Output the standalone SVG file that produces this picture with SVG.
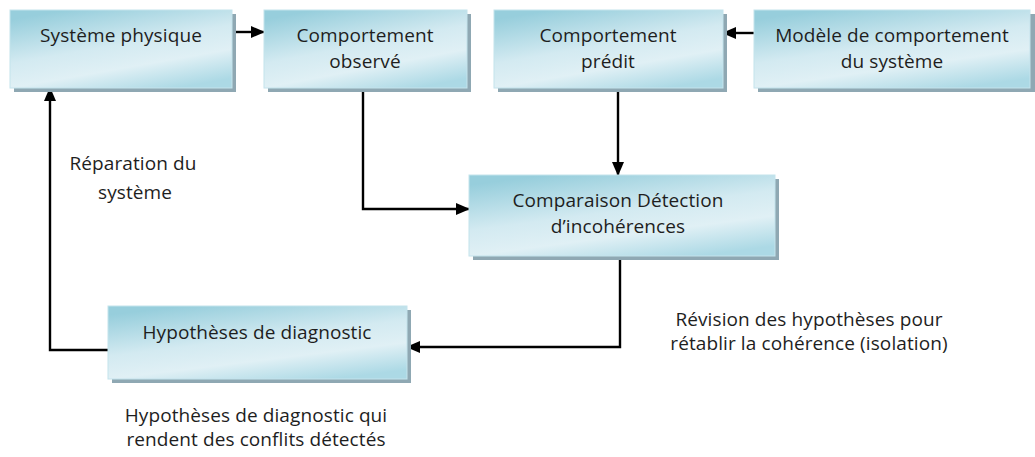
<svg xmlns="http://www.w3.org/2000/svg" width="1035" height="457" viewBox="0 0 1035 457">
  <style>
    .box { fill: url(#boxFill); stroke: #c4e3ec; stroke-width: 1; }
    .shadow { fill: #8fa8b3; }
    .lbl { font-family: "Open Sans", "Noto Sans", sans-serif; font-size: 19px; letter-spacing: 0.1px; fill: #1e1e1e; text-anchor: middle; }
    .wire { fill: none; stroke: #000; stroke-width: 2.4; }
  </style>
  <defs>
    <linearGradient id="boxFill" x1="0.25" y1="0" x2="0.75" y2="1">
      <stop offset="0" stop-color="#97cedc"/>
      <stop offset="0.45" stop-color="#d3eaf1"/>
      <stop offset="0.7" stop-color="#e0f0f5"/>
      <stop offset="1" stop-color="#acd9e5"/>
    </linearGradient>
    <marker id="arrow" markerWidth="14" markerHeight="12" refX="13" refY="6" orient="auto" markerUnits="userSpaceOnUse" viewBox="0 0 14 12">
      <path d="M0,0 L14,6 L0,12 Z" fill="#000"/>
    </marker>
  </defs>

  <!-- connectors -->
  <g id="connectors">
    <line class="wire" x1="232" y1="32" x2="264" y2="32" marker-end="url(#arrow)"/>
    <line class="wire" x1="754" y1="33" x2="723" y2="33" marker-end="url(#arrow)"/>
    <polyline class="wire" points="363,88 363,209 469,209" marker-end="url(#arrow)"/>
    <line class="wire" x1="618" y1="88" x2="618" y2="175" marker-end="url(#arrow)"/>
    <polyline class="wire" points="620,256 620,347 407,347" marker-end="url(#arrow)"/>
    <polyline class="wire" points="108,350 50,350 50,88" marker-end="url(#arrow)"/>
  </g>

  <g id="systeme-physique">
    <rect class="shadow" x="14" y="14" width="222" height="78"/>
    <rect class="box" x="10" y="10" width="222" height="78"/>
    <text class="lbl" x="121" y="42">Système physique</text>
  </g>

  <g id="comportement-observe">
    <rect class="shadow" x="268" y="14" width="203" height="78"/>
    <rect class="box" x="264" y="10" width="203" height="78"/>
    <text class="lbl" x="365" y="42">Comportement</text>
    <text class="lbl" x="365" y="68">observé</text>
  </g>

  <g id="comportement-predit">
    <rect class="shadow" x="498" y="14" width="229" height="78"/>
    <rect class="box" x="494" y="10" width="229" height="78"/>
    <text class="lbl" x="608" y="42">Comportement</text>
    <text class="lbl" x="608" y="68">prédit</text>
  </g>

  <g id="modele">
    <rect class="shadow" x="758" y="14" width="278" height="78"/>
    <rect class="box" x="754" y="10" width="276" height="78"/>
    <text class="lbl" x="892" y="42">Modèle de comportement</text>
    <text class="lbl" x="892" y="68">du système</text>
  </g>

  <g id="comparaison">
    <rect class="shadow" x="473" y="179" width="306" height="81"/>
    <rect class="box" x="469" y="175" width="306" height="81"/>
    <text class="lbl" x="618" y="207">Comparaison Détection</text>
    <text class="lbl" x="618" y="233">d’incohérences</text>
  </g>

  <g id="hypotheses">
    <rect class="shadow" x="112" y="310" width="299" height="73"/>
    <rect class="box" x="108" y="306" width="299" height="73"/>
    <text class="lbl" x="257" y="339">Hypothèses de diagnostic</text>
  </g>

  <g id="notes">
    <text class="lbl" x="133" y="170">Réparation du</text>
    <text class="lbl" x="135" y="199">système</text>
    <text class="lbl" x="809" y="326">Révision des hypothèses pour</text>
    <text class="lbl" x="809" y="350">rétablir la cohérence (isolation)</text>
    <text class="lbl" x="256" y="422">Hypothèses de diagnostic qui</text>
    <text class="lbl" x="256" y="446">rendent des conflits détectés</text>
  </g>
</svg>
